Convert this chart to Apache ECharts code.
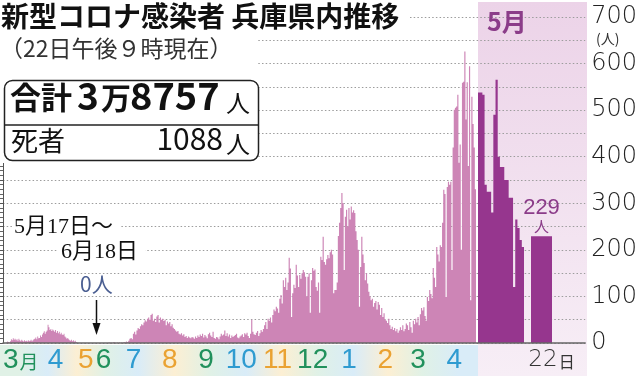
<!DOCTYPE html>
<html><head><meta charset="utf-8">
<script src="https://cdn.jsdelivr.net/npm/echarts@6/dist/echarts.min.js"></script>
<style>html,body{margin:0;padding:0;background:#fff}#c{width:640px;height:376px}</style>
</head><body><div id="c"></div>
<script>
// ---- daily new cases ----
const mar20=[0,1,3,2,1,4,8,6,10,7,9,6,8,5,9,6,4,7,5,3,6,4,5,3,6,4,5,7,4,6,8];
const apr20=[9,12,8,14,10,11,16,13,18,22,25,20,24,27,39,34,28,30,26,29,27,24,28,22,26,21,24,19,22,18];
const may20=[17,20,14,12,9,11,8,6,5,7,4,6,3,5,2,1,0,0,0,0,0,0,0,0,0,0,0,0,0,0,0];
const jun20=[0,0,0,0,0,0,0,0,0,0,0,0,0,0,0,0,0,0,1,0,1,0,0,2,1,0,0,1,0,1];
const jul20=[0,1,0,2,1,3,2,5,9,11,8,20,24,18,27,32,30,36,40,38,44,49,46,52,55,50,60,63,48,52,45];
const aug20=[57,60,44,55,50,52,47,50,38,46,42,45,36,40,33,30,27,24,26,20,18,21,16,19,13,15,11,14,12,10,13];
const sep20=[12,9,14,11,16,13,18,15,20,12,17,14,10,19,22,16,13,24,11,9,13,12,8,14,20,16,18,27,15,21];
const oct20=[14,18,11,16,13,15,17,20,12,10,14,16,19,13,21,18,22,15,11,20,50,24,19,17,22,26,15,21,28,24,30];
const nov20=[38,45,30,52,48,55,44,60,72,68,78,74,65,95,103,85,135,120,140,114,130,183,160,56,107,125,118,168,145,120];
const dec20=[146,138,150,157,152,142,100,142,150,65,135,161,155,158,120,112,130,65,185,178,228,174,168,180,189,182,195,200,190,107,114];
const jan21=[114,130,230,258,290,322,300,157,271,286,250,290,265,293,280,285,279,240,221,200,78,163,228,190,172,135,150,128,110,100,92];
const feb21=[95,78,86,90,72,88,82,60,75,56,64,50,48,43,52,38,30,35,28,32,25,30,22,27,34,28,38,25];
const mar21=[30,42,38,28,45,34,22,48,40,52,44,56,38,62,75,70,77,58,48,99,90,114,105,96,161,140,120,206,190,175,210];
const apr21=[206,258,329,320,99,335,346,340,346,157,420,501,505,508,533,387,426,200,559,561,626,480,560,380,594,92,529,470,420,330];
const may21=[538,538,533,340,325,325,280,490,565,400,378,378,350,350,312,312,120,265,247,221,206]; // May 1-21
const latest=[229];          // May 22
const latestCat=['22'];
const yTicks=[0,100,200,300,400,500,600,700];

const monthsA=[[2020,3,mar20],[2020,4,apr20],[2020,5,may20],[2020,6,jun20]];
const monthsB=[[2020,7,jul20],[2020,8,aug20],[2020,9,sep20],[2020,10,oct20],[2020,11,nov20],[2020,12,dec20],[2021,1,jan21],[2021,2,feb21],[2021,3,mar21],[2021,4,apr21]];

function cats(list){const o=[];list.forEach(([y,m,a])=>a.forEach((_,i)=>o.push(y+'-'+m+'-'+(i+1))));return o;}
function vals(list){const o=[];list.forEach(([y,m,a])=>a.forEach(v=>o.push(v)));return o;}
const catsA=cats(monthsA), catsB=cats(monthsB), catsC=may21.map((_,i)=>'2021-5-'+(i+1));

const LIGHT='#cd85b6', DARK='#96368e', PURPLE='#8b3c89';
const NARROW="'Liberation Sans Narrow','Liberation Sans',sans-serif";
const JP="'Noto Sans CJK JP',sans-serif";
const cls=m=>['g','b','o'][m%3];
const labelDayA={3:17,4:23,5:25,6:13};
function mkLabel(val){const [y,m]=val.split('-').map(Number);
  if(y===2020&&m===3) return '{g|3}{gm|月}';
  return '{'+cls(m)+'|'+m+'}';}
const rich={
  g:{color:'#21915c',fontSize:28,fontFamily:NARROW},
  b:{color:'#2f9bd0',fontSize:28,fontFamily:NARROW},
  o:{color:'#eaa232',fontSize:28,fontFamily:NARROW},
  gm:{color:'#21915c',fontSize:19,fontFamily:JP,padding:[4,0,0,1]}
};

const G={top:17,height:326};
const gA={left:4,width:116}, gB={left:120,width:356}, gC={left:478,width:46}, gD={left:531,width:21};

function centers(list,g){const N=list.reduce((s,x)=>s+x[2].length,0);let st=0;const r=[];
  list.forEach(([y,m,a])=>{r.push([g.left+(st+a.length/2)*g.width/N,m]);st+=a.length;});return r;}
const bandCol={g:'#e0f1e6',b:'#d9ecf8',o:'#fcefd3'};
const stops=[...centers(monthsA,gA),...centers(monthsB,gB)].map(([x,m])=>({offset:Math.min(1,Math.max(0,x/478)),color:bandCol[cls(m)]}));

// Daily bars: every bar's edges come from the axis scales (api.coord / api.size);
// the bars of one period are filled as a single outline so neighbouring bars leave no seams.
function dayBars(xi,values,color){
  return {type:'custom',xAxisIndex:xi,yAxisIndex:xi,silent:true,
    data:values.map((v,i)=>[i,v]),
    renderItem:(params,api)=>{
      if(params.dataIndex!==0) return null;
      const w=api.size([1,0])[0];
      const pts=[];
      values.forEach((v,i)=>{
        const c=api.coord([i,v]);
        pts.push([c[0]-w/2,c[1]],[c[0]+w/2,c[1]]);
      });
      const b0=api.coord([0,0]), b1=api.coord([values.length-1,0]);
      pts.unshift([b0[0]-w/2,b0[1]]);
      pts.push([b1[0]+w/2,b1[1]]);
      return {type:'polygon',shape:{points:pts},style:{fill:color}};
    }};
}

const chart=echarts.init(document.getElementById('c'),null,{renderer:'canvas'});
const xBase={type:'category',axisLine:{show:false},axisTick:{show:false},splitLine:{show:false}};
const yBase={type:'value',min:0,max:700,show:false};
chart.setOption({
  animation:false,
  grid:[
    {left:3,top:G.top,width:584,height:G.height},
    {left:gA.left,top:G.top,width:gA.width,height:G.height},
    {left:gB.left,top:G.top,width:gB.width,height:G.height},
    {left:gC.left,top:G.top,width:gC.width,height:G.height},
    {left:gD.left,top:G.top,width:gD.width,height:G.height}
  ],
  xAxis:[
    {gridIndex:0,type:'value',min:0,max:1,z:3,axisLine:{show:true,lineStyle:{color:'#666',width:1.5}},axisTick:{show:false},axisLabel:{show:false},splitLine:{show:false}},
    {...xBase,gridIndex:1,data:catsA,z:4,axisLabel:{margin:3,interval:(i,v)=>{const p=v.split('-').map(Number);return p[2]===labelDayA[p[1]];},formatter:mkLabel,rich}},
    {...xBase,gridIndex:2,data:catsB,z:4,axisLabel:{margin:3,interval:(i,v)=>v.split('-').map(Number)[2]===12,formatter:mkLabel,rich}},
    {...xBase,gridIndex:3,data:catsC,axisLabel:{show:false}},
    {...xBase,gridIndex:4,data:latestCat,z:4,axisLabel:{margin:6,formatter:v=>'{sp|}{n|'+v+'}{u|日}',rich:{
      sp:{width:20},n:{fontSize:23,fontFamily:"'DejaVu Sans',sans-serif",fontWeight:200,color:'#333'},
      u:{fontSize:16,fontFamily:JP,color:'#333',padding:[3,0,0,1]}}}}
  ],
  yAxis:[
    {gridIndex:0,type:'value',min:0,max:700,interval:50,position:'right',z:1,
     axisLine:{show:true,lineStyle:{color:'#555',width:1}},
     axisTick:{show:true,inside:true,length:4,lineStyle:{color:'#555'}},
     minorTick:{show:true,splitNumber:5,length:3,lineStyle:{color:'#666'}},
     axisLabel:{margin:6,color:'#222',fontSize:24,fontWeight:200,fontFamily:"'DejaVu Sans',sans-serif",padding:[6,0,0,0],
       formatter:v=>yTicks.includes(v)?String(v):''},
     splitLine:{show:true,lineStyle:{color:'#9c9c9c',width:1,type:[1.5,2.2]}}},
    {...yBase,gridIndex:1},{...yBase,gridIndex:2},{...yBase,gridIndex:3},{...yBase,gridIndex:4}
  ],
  series:[
    dayBars(1,vals(monthsA),LIGHT),
    dayBars(2,vals(monthsB),LIGHT),
    dayBars(3,may21,DARK),
    {type:'bar',barCategoryGap:'0%',silent:true,xAxisIndex:4,yAxisIndex:4,data:latest,itemStyle:{color:DARK},
     label:{show:true,position:'top',distance:3,formatter:p=>'{v|'+p.value+'}\n{u|人}',
       rich:{v:{fontSize:22,fontFamily:"'Liberation Sans',sans-serif",color:PURPLE,lineHeight:21},
             u:{fontSize:15,fontFamily:JP,color:PURPLE,lineHeight:15}}}}
  ],
  graphic:{elements:[
    {type:'rect',silent:true,z:0,shape:{x:478,y:2,width:109,height:374},
     style:{fill:new echarts.graphic.LinearGradient(0,0,0,1,[{offset:0,color:'#ecd3e8'},{offset:1,color:'#f7eef6'}])}},
    {type:'rect',silent:true,z:0,shape:{x:0,y:345,width:478,height:31},
     style:{fill:new echarts.graphic.LinearGradient(0,0,1,0,stops)}},
    {type:'rect',silent:true,z:5,shape:{x:0,y:0,width:410,height:35},style:{fill:'#fff'}},
    {type:'rect',silent:true,z:5,shape:{x:0,y:35,width:257,height:128},style:{fill:'#fff'}},
    {type:'text',z:6,x:1,y:2,style:{text:'新型コロナ感染者 兵庫県内推移',fontSize:28,fontWeight:'bold',fontFamily:JP,fill:'#111'}},
    {type:'text',z:6,x:0,y:37,style:{text:'（22日午後９時現在）',fontSize:23,fontFamily:JP,fill:'#333'}},
    {type:'rect',z:6,shape:{x:4.5,y:80.5,width:254,height:80,r:8},style:{fill:'#fff',stroke:'#222',lineWidth:1.5}},
    {type:'line',z:7,shape:{x1:4.5,y1:125,x2:258.5,y2:125},style:{stroke:'#222',lineWidth:1.5}},
    {type:'text',z:7,x:10,y:82,style:{text:'合計',fontSize:31,fontWeight:'bold',fontFamily:JP,fill:'#111'}},
    {type:'text',z:7,x:77,y:77,style:{text:'3',fontSize:37,fontWeight:'bold',fontFamily:JP,fill:'#111'}},
    {type:'text',z:7,x:101,y:83,style:{text:'万',fontSize:30,fontWeight:'bold',fontFamily:JP,fill:'#111'}},
    {type:'text',z:7,x:130,y:77,style:{text:'8757',fontSize:38,fontWeight:'bold',fontFamily:JP,fill:'#111'}},
    {type:'text',z:7,x:226,y:91,style:{text:'人',fontSize:24,fontFamily:JP,fill:'#111'}},
    {type:'text',z:7,x:11,y:127,style:{text:'死者',fontSize:27,fontFamily:JP,fill:'#111'}},
    {type:'text',z:7,x:223,y:124,style:{text:'1088',align:'right',fontSize:30,fontFamily:JP,fill:'#111'}},
    {type:'text',z:7,x:226,y:132,style:{text:'人',fontSize:24,fontFamily:JP,fill:'#111'}},
    {type:'rect',silent:true,z:5,shape:{x:12,y:217,width:108,height:25},style:{fill:'#fff'}},
    {type:'rect',silent:true,z:5,shape:{x:58,y:241,width:87,height:26},style:{fill:'#fff'}},
    {type:'text',z:6,x:14,y:216,style:{text:'5月17日～',fontSize:22,fontFamily:"'Liberation Serif','Noto Sans CJK JP',serif",fill:'#111'}},
    {type:'text',z:6,x:61,y:241,style:{text:'6月18日',fontSize:22,fontFamily:"'Liberation Serif','Noto Sans CJK JP',serif",fill:'#111'}},
    {type:'text',z:6,x:80,y:274,style:{text:'0人',fontSize:21,fontFamily:JP,fill:'#4b5f92'}},
    {type:'line',z:6,shape:{x1:96.5,y1:300,x2:96.5,y2:326},style:{stroke:'#111',lineWidth:1.5}},
    {type:'polygon',z:6,shape:{points:[[92.5,323],[100.5,323],[96.5,335]]},style:{fill:'#111'}},
    {type:'text',z:6,x:487,y:9,style:{text:'5月',fontSize:25,fontWeight:'bold',fontFamily:JP,fill:PURPLE}},
    {type:'text',z:6,x:596,y:32,style:{text:'(人)',fontSize:14,fontFamily:JP,fill:'#333'}}
  ]}
});
</script></body></html>
